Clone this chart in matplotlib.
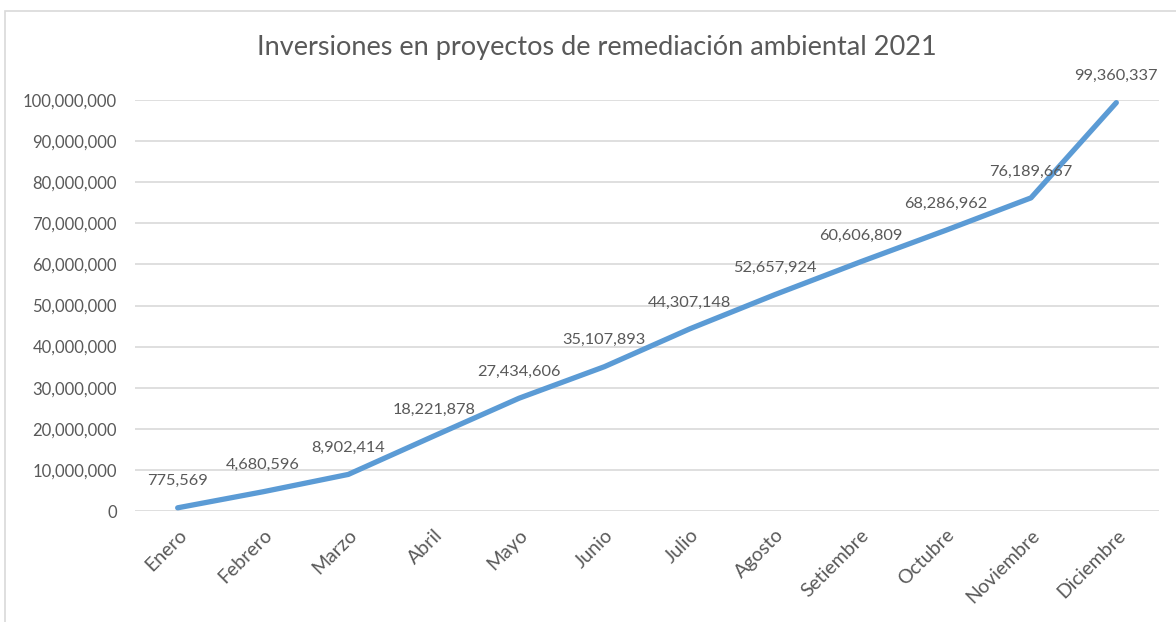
import matplotlib
matplotlib.use("Agg")
import matplotlib.pyplot as plt
from matplotlib.patches import Rectangle
from matplotlib.ticker import FuncFormatter, MultipleLocator

meses = ["Enero", "Febrero", "Marzo", "Abril", "Mayo", "Junio", "Julio",
         "Agosto", "Setiembre", "Octubre", "Noviembre", "Diciembre"]
inversion = [775569, 4680596, 8902414, 18221878, 27434606, 35107893,
             44307148, 52657924, 60606809, 68286962, 76189667, 99360337]

TXT = "#595959"
GRID = "#d9d9d9"
LINE = "#5b9bd5"

plt.rcParams["font.family"] = ["Lato", "DejaVu Sans"]

fig = plt.figure(figsize=(11.76, 6.22), dpi=100)
# chart border (cropped at right and bottom in the reference)
fig.patches.append(Rectangle((5 / 1176, -0.1), 1.2, 1 - 10.5 / 622 + 0.1,
                             transform=fig.transFigure, fill=False,
                             edgecolor=GRID, linewidth=1.2))

ax = fig.add_axes([135 / 1176, 1 - 511 / 622, 1024 / 1176, 411 / 622])
x = list(range(len(meses)))
ax.plot(x, inversion, color=LINE, linewidth=3.8, solid_capstyle="round",
        solid_joinstyle="round", zorder=3)

for xi, v in zip(x, inversion):
    ax.annotate(f"{v:,}", (xi, v), xytext=(0, 14), textcoords="offset points",
                ha="center", va="bottom", fontsize=11.8, color=TXT, zorder=4)

ax.set_xlim(-0.5, len(meses) - 0.5)
ax.set_ylim(0, 100_000_000)
ax.yaxis.set_major_locator(MultipleLocator(10_000_000))
ax.yaxis.set_major_formatter(FuncFormatter(lambda v, p: f"{int(v):,}"))
ax.grid(axis="y", color=GRID, linewidth=1.2)
ax.set_axisbelow(True)
for s in ax.spines.values():
    s.set_visible(False)
ax.tick_params(axis="both", length=0, labelcolor=TXT)
ax.tick_params(axis="y", pad=13, labelsize=12)
ax.set_xticks(x)
ax.set_xticklabels(meses, rotation=45, ha="right", rotation_mode="anchor")
ax.tick_params(axis="x", pad=11, labelsize=14)

fig.text(597 / 1176, 1 - 48 / 622,
         "Inversiones en proyectos de remediación ambiental 2021",
         ha="center", va="center", fontsize=19.5, color=TXT)

fig.savefig("out.png", dpi=100)
